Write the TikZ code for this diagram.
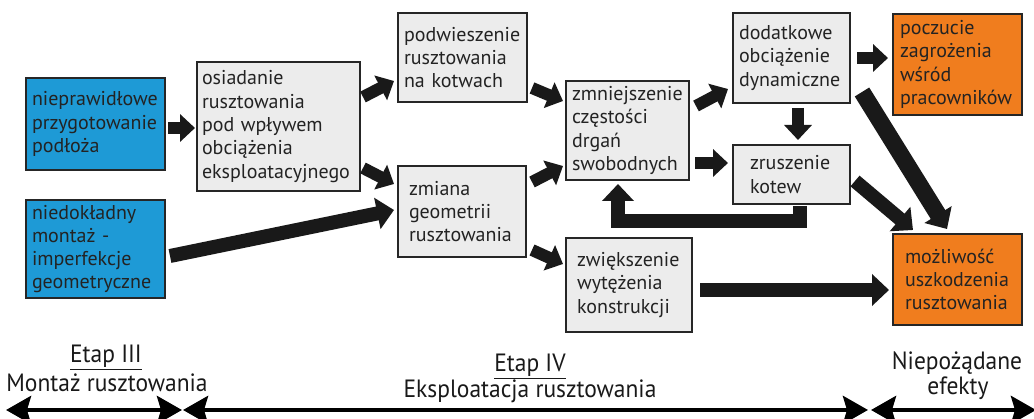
\documentclass[tikz,border=0pt]{standalone}
\usepackage{fontspec}
\setmainfont{PT Sans}
\newfontfamily\condf[FakeStretch=0.94]{PT Sans}
\usetikzlibrary{arrows.meta,calc}
\definecolor{bblue}{RGB}{30,154,214}
\definecolor{borange}{RGB}{240,125,30}
\definecolor{bgray}{RGB}{236,236,236}
\definecolor{btext}{RGB}{35,35,35}
\newcommand\mkbox[8]{%
 \pgfmathsetmacro\bw{#4-#2}\pgfmathsetmacro\bh{#5-#3}%
 \pgfmathsetmacro\tw{#4-#2-2*#6}%
 \node[flowbox, fill=#7, minimum width=\bw pt, minimum height=\bh pt,
   text width=\tw pt, inner xsep=#6 pt] (#1) at ({(#2+#4)/2},{(#3+#5)/2}) {#8};}
\begin{document}
\begin{tikzpicture}[x=1pt,y=-1pt,
  flowbox/.style={draw=black!85, line width=1.8pt, align=left, inner ysep=0pt,
    outer sep=0pt, text=btext, font=\fontsize{20}{23.3}\selectfont},
  blk/.style={line width=12pt, -{Triangle[length=15pt,width=27pt]}, black!90},
  blkl/.style={line width=14pt, -{Triangle[length=17pt,width=31pt]}, black!90},
  tl/.style={line width=4.5pt, {Stealth[length=25pt,width=28pt,inset=4pt]}-{Stealth[length=25pt,width=28pt,inset=4pt]}},
  lab/.style={font=\condf\fontsize{25}{29}\selectfont, text=black!90, anchor=base, inner sep=0pt}]
\useasboundingbox (0,0) rectangle (1034,419);
\clip (0,0) rectangle (1034,419);
\mkbox{bad}{26}{78}{165}{170}{6}{bblue}{nieprawidłowe\\przygotowanie\\podłoża}
\mkbox{imp}{26}{200}{165}{298}{6}{bblue}{niedokładny\\montaż -\\imperfekcje\\geometryczne}
\mkbox{osi}{197}{62}{360}{191}{5}{bgray}{osiadanie\\rusztowania\\pod wpływem\\obciążenia\\eksploatacyjnego}
\mkbox{pod}{398}{13}{527}{102}{6}{bgray}{podwieszenie\\rusztowania\\na kotwach}
\mkbox{zmi}{398}{166}{526}{257}{11}{bgray}{zmiana\\geometrii\\rusztowania}
\mkbox{czes}{566}{81}{689}{180}{6}{bgray}{zmniejszenie\\częstości\\drgań\\swobodnych}
\mkbox{wyt}{566}{238}{692}{332}{11}{bgray}{zwiększenie\\wytężenia\\konstrukcji}
\mkbox{dyn}{733}{13}{850}{103}{6}{bgray}{dodatkowe\\obciążenie\\dynamiczne}
\mkbox{kot}{733}{145}{850}{204}{17}{bgray}{zruszenie\\kotew}
\mkbox{zag}{893}{14}{1022}{115}{7}{borange}{poczucie\\zagrożenia\\wśród\\pracowników}
\mkbox{usz}{893}{234}{1022}{325}{12}{borange}{możliwość\\uszkodzenia\\rusztowania}
% connectors
\draw[blk] ($(bad.north west)+(142,50)$) -- ($(osi.north west)+(-2,66)$);
\draw[blk] ($(osi.north west)+(166,35)$) -- ($(pod.north west)+(-4,68)$);
\draw[blk] ($(osi.north west)+(166,106)$) -- ($(zmi.north west)+(-4,18)$);
\draw[blkl] ($(imp.north west)+(144,56)$) -- ($(zmi.north west)+(-4,44)$);
\draw[blk] ($(pod.north west)+(134,75)$) -- ($(czes.north west)+(-3,20)$);
\draw[blk] ($(zmi.north west)+(134,16)$) -- ($(czes.north west)+(-3,85)$);
\draw[blk] ($(zmi.north west)+(134,84)$) -- ($(wyt.north west)+(-3,26)$);
\draw[blk] ($(czes.north west)+(130,25)$) -- ($(dyn.north west)+(-5,76)$);
\draw[blk] ($(czes.north west)+(129,82)$) -- ($(kot.north west)+(-5,18)$);
\draw[blk] ($(dyn.north west)+(65,95)$) -- ($(kot.north west)+(65,-5)$);
\draw[blkl] ($(kot.north west)+(67,61)$) -- ($(kot.north west)+(67,76)$)
   -- ($(czes.north west)+(52,140)$) -- ($(czes.north west)+(52,103)$);
\draw[blkl] ($(wyt.north west)+(134,52)$) -- ($(usz.north west)+(-4,56)$);
\draw[blkl, line width=17pt] ($(dyn.north west)+(129,79)$) -- ($(usz.north west)+(54,-5)$);
\draw[blkl] ($(kot.north west)+(122,36)$) -- ($(usz.north west)+(20,-4)$);
\draw[blk] ($(dyn.north west)+(124,45)$) -- ($(zag.north west)+(-5,44)$);
% timeline
\coordinate (t0) at (6,410);
\coordinate (t1) at (182,410);
\coordinate (t2) at (183,410);
\coordinate (t3) at (868,410);
\coordinate (t4) at (871,410);
\coordinate (t5) at (1036,410);
\draw[tl] (t0) -- (t1);
\draw[tl] (t2) -- (t3);
\draw[tl] (t4) -- (t5);
\node[lab] (e3) at (106,363) {\underline{Etap III}};
\node[lab] (m3) at (107,392) {Montaż rusztowania};
\node[lab] (e4) at (530,372) {\underline{Etap IV}};
\node[lab] (m4) at (530,398) {Eksploatacja rusztowania};
\node[lab] (n5) at (957,370) {Niepożądane};
\node[lab] (f5) at (958,395) {efekty};
\end{tikzpicture}
\end{document}
